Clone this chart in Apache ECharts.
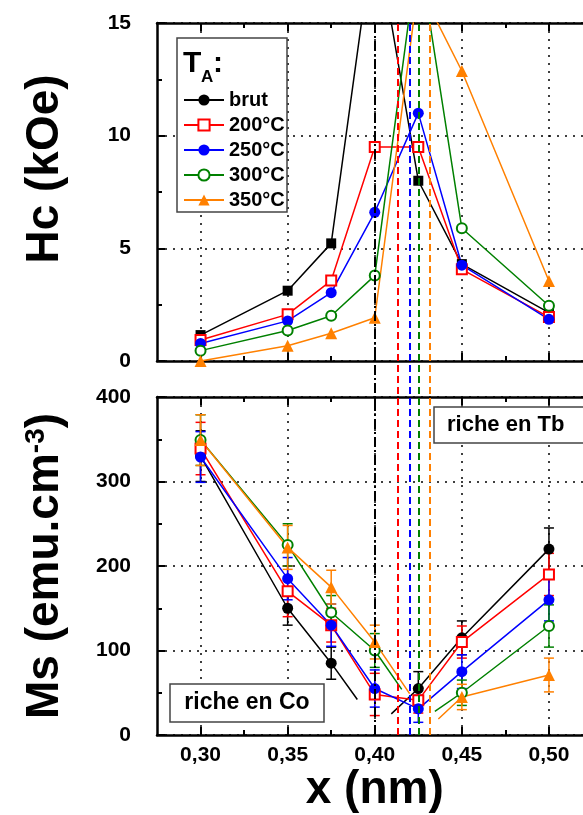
<!DOCTYPE html>
<html><head><meta charset="utf-8">
<script src="https://cdn.jsdelivr.net/npm/echarts@6/dist/echarts.min.js"></script>
<style>html,body{margin:0;padding:0;background:#fff}#c{width:583px;height:815px}</style>
</head><body><div id="c"></div>
<script>
// ---------- data ----------
const xComp = [0.30, 0.35, 0.375, 0.40, 0.425, 0.45, 0.50];
const xMajor = [0.30, 0.35, 0.40, 0.45, 0.50];
const xMinor = [0.325, 0.375, 0.425, 0.475];
const seriesNames = ['brut', '200°C', '250°C', '300°C', '350°C'];

// Hc (kOe)
const hcBrut = [1.15, 3.12, 5.22, 19.3, 8.0, 4.3, 2.15];
const hc200  = [0.93, 2.07, 3.57, 9.5, 9.5, 4.07, 1.95];
const hc250  = [0.78, 1.78, 3.03, 6.6, 11.0, 4.25, 1.85];
const hc300  = [0.46, 1.35, 2.01, 3.79, 18.3, 5.89, 2.45];
const hc350  = [0.0, 0.68, 1.23, 1.92, 16.7, 12.87, 3.55];

// Ms (emu.cm-3)
const msBrut = [330, 150, 85, null, 55, 115, 220];
const ms200  = [339, 170, 130, 48, 41, 110, 190];
const ms250  = [329, 185, 130, 55, 31, 75, 160];
const ms300  = [349, 225, 145, 100, null, 50, 129];
const ms350  = [349, 222, 175, 110, null, 45, 71];
// error bars (half width)
const errBrut = [30, 20, 19, null, 20, 20, 25];
const err200  = [31, 30, 20, 25, 15, 19, 25];
const err250  = [30, 25, 25, 22, 16, 20, 25];
const err300  = [30, 25, 20, 20, null, 15, 25];
const err350  = [30, 26, 20, 20, null, 15, 20];
// ends of the extrapolated branches (no marker)
const extBrut = [[0.390, 42], [0.4095, 25]];
const ext300  = [[0.4155, 54], [0.4345, 28]];
const ext350  = [[0.420, 49], [0.4365, 19]];

// compensation compositions (vertical lines)
const xCompensation = [0.40, 0.4134, 0.420, 0.4252, 0.4316];

// ---------- styles ----------
const FONT = "'Liberation Sans', Arial, sans-serif";
const colors = ['#000000', '#ff0000', '#0000ff', '#008000', '#ff8000'];
const hcSymbols = ['rect', 'emptyRect', 'circle', 'emptyCircle', 'triangle'];
const msSymbols = ['circle', 'emptyRect', 'circle', 'emptyCircle', 'triangle'];
const symSize = {rect: 10, emptyRect: 10, circle: 11, emptyCircle: 10, triangle: 12};
const xMin = 0.275, xMax = 0.525;

const hcAll = [hcBrut, hc200, hc250, hc300, hc350];
const msAll = [msBrut, ms200, ms250, ms300, ms350];
const errAll = [errBrut, err200, err250, err300, err350];
const extAll = [extBrut, null, null, ext300, ext350];

const fmt = v => v.toFixed(2).replace('.', ',');
const labelStyle = {fontSize: 21, fontWeight: 'bold', color: '#000', fontFamily: FONT};
const nameStyle = {fontSize: 46, fontWeight: 'bold', color: '#000', fontFamily: FONT};
const frameLine = {color: '#000', width: 2.5};
const tickLine = {color: '#000', width: 2};
const dotted = {color: '#000', width: 1.5, type: [2, 6]};

function xAxisSet(gridIndex, withLabels) {
  const base = {type: 'value', gridIndex: gridIndex, min: xMin, max: xMax};
  return [
    Object.assign({}, base, {
      position: 'bottom',
      axisLine: {show: true, onZero: false, lineStyle: frameLine},
      axisTick: {show: true, inside: true, length: 8, customValues: xMajor, lineStyle: tickLine},
      axisLabel: Object.assign({show: withLabels, customValues: xMajor, formatter: fmt, margin: 10}, labelStyle),
      splitLine: {show: true, lineStyle: dotted},
      name: withLabels ? 'x (nm)' : '', nameLocation: 'middle', nameGap: 31, nameTextStyle: nameStyle
    }),
    Object.assign({}, base, {
      position: 'bottom',
      axisLine: {show: false, onZero: false},
      axisTick: {show: true, inside: true, length: 5, customValues: xMinor, lineStyle: tickLine},
      axisLabel: {show: false}, splitLine: {show: false}
    }),
    Object.assign({}, base, {
      position: 'top',
      axisLine: {show: true, onZero: false, lineStyle: frameLine},
      axisTick: {show: true, inside: true, length: 8, customValues: xMajor, lineStyle: tickLine},
      axisLabel: {show: false}, splitLine: {show: false}
    }),
    Object.assign({}, base, {
      position: 'top',
      axisLine: {show: false, onZero: false},
      axisTick: {show: true, inside: true, length: 5, customValues: xMinor, lineStyle: tickLine},
      axisLabel: {show: false}, splitLine: {show: false}
    })
  ];
}

function yAxis(gridIndex, max, interval, name, extraName) {
  return {
    type: 'value', gridIndex: gridIndex, min: 0, max: max, interval: interval, position: 'left',
    axisLine: {show: true, onZero: false, lineStyle: frameLine},
    axisTick: {show: true, inside: true, length: 8, lineStyle: tickLine},
    minorTick: {show: true, splitNumber: 2, length: 5, lineStyle: tickLine},
    axisLabel: Object.assign({margin: 26}, labelStyle),
    splitLine: {show: true, lineStyle: dotted},
    name: name, nameLocation: 'middle', nameRotate: 90, nameGap: 89,
    nameTextStyle: Object.assign({}, nameStyle, extraName)
  };
}

const series = [];
function lineSeries(name, idx, symbol, data, xi, yi) {
  return {
    type: 'line', name: name, xAxisIndex: xi, yAxisIndex: yi, data: data,
    symbol: symbol, symbolSize: symSize[symbol], clip: true, z: 3,
    lineStyle: {color: colors[idx], width: 1.5},
    itemStyle: {color: colors[idx]},
    emphasis: {disabled: true}, animation: false
  };
}

// bottom panel (first, so legend uses its symbols)
seriesNames.forEach((name, i) => {
  const pts = xComp.map((x, k) => msAll[i][k] == null ? null : [x, msAll[i][k]]).filter(p => p);
  const ext = extAll[i];
  if (ext) {
    const left = pts.filter(p => p[0] < ext[0][0]).concat([{value: ext[0], symbol: 'none'}]);
    const right = [{value: ext[1], symbol: 'none'}].concat(pts.filter(p => p[0] > ext[1][0]));
    series.push(lineSeries(name, i, msSymbols[i], left, 4, 1));
    series.push(lineSeries(name, i, msSymbols[i], right, 4, 1));
  } else {
    series.push(lineSeries(name, i, msSymbols[i], pts, 4, 1));
  }
});
// top panel
seriesNames.forEach((name, i) => {
  const pts = xComp.map((x, k) => [x, hcAll[i][k]]);
  series.push(lineSeries(name, i, hcSymbols[i], pts, 0, 0));
});
// error bars
function errRender(color) {
  return function (params, api) {
    const x = api.value(0), y = api.value(1), e = api.value(2);
    const hi = api.coord([x, y + e]), lo = api.coord([x, y - e]);
    const w = 5, st = {stroke: color, lineWidth: 1.5};
    return {type: 'group', children: [
      {type: 'line', shape: {x1: hi[0], y1: hi[1], x2: lo[0], y2: lo[1]}, style: st},
      {type: 'line', shape: {x1: hi[0] - w, y1: hi[1], x2: hi[0] + w, y2: hi[1]}, style: st},
      {type: 'line', shape: {x1: lo[0] - w, y1: lo[1], x2: lo[0] + w, y2: lo[1]}, style: st}
    ]};
  };
}
seriesNames.forEach((name, i) => {
  const d = xComp.map((x, k) => (msAll[i][k] == null || errAll[i][k] == null) ? null : [x, msAll[i][k], errAll[i][k]]).filter(p => p);
  series.push({type: 'custom', xAxisIndex: 4, yAxisIndex: 1, data: d, z: 2, silent: true,
    renderItem: errRender(colors[i]), animation: false});
});
// compensation lines spanning both panels
series.push({
  type: 'line', xAxisIndex: 8, yAxisIndex: 2, data: [], silent: true, z: 1,
  markLine: {
    symbol: ['none', 'none'], silent: true, label: {show: false}, animation: false, precision: 5,
    data: xCompensation.map((v, i) => ({
      xAxis: v,
      lineStyle: {color: colors[i], width: 2, type: i === 0 ? [10, 3, 2, 3] : [7, 4]}
    }))
  }
});

const gridBase = {left: 157, right: -9.5, containLabel: false, outerBoundsMode: 'none'};
const option = {
  animation: false,
  backgroundColor: '#fff',
  grid: [
    Object.assign({}, gridBase, {top: 23, bottom: 454}),
    Object.assign({}, gridBase, {top: 397, bottom: 80}),
    Object.assign({}, gridBase, {top: 23, bottom: 80})
  ],
  xAxis: xAxisSet(0, false).concat(xAxisSet(1, true)).concat([
    {type: 'value', gridIndex: 2, min: xMin, max: xMax, show: false}
  ]),
  yAxis: [
    yAxis(0, 15, 5, 'Hc (kOe)', {padding: [0, 0, 0, 46]}),
    yAxis(1, 400, 100, 'Ms (emu.cm{sup|-3})', {rich: {sup: {fontSize: 28, fontWeight: 'bold', color: '#000', fontFamily: FONT, verticalAlign: 'top'}}}),
    {type: 'value', gridIndex: 2, min: 0, max: 1, show: false}
  ],
  legend: {
    data: seriesNames, orient: 'vertical', left: 183, top: 90, padding: 0,
    itemWidth: 40, itemHeight: 14, itemGap: 5, selectedMode: false,
    textStyle: {fontSize: 20, fontWeight: 'bold', color: '#000', fontFamily: FONT, lineHeight: 20}
  },
  graphic: [
    {type: 'rect', z: 1, shape: {x: 177, y: 38, width: 110, height: 174},
      style: {fill: '#fff', stroke: '#444', lineWidth: 1.5}},
    {type: 'text', z: 5, style: {x: 183, y: 64, text: 'T', font: 'bold 30px ' + FONT, fill: '#000', verticalAlign: 'middle'}},
    {type: 'text', z: 5, style: {x: 201, y: 77, text: 'A', font: 'bold 17px ' + FONT, fill: '#000', verticalAlign: 'middle'}},
    {type: 'text', z: 5, style: {x: 213, y: 64, text: ':', font: 'bold 30px ' + FONT, fill: '#000', verticalAlign: 'middle'}},
    {type: 'rect', z: 1, shape: {x: 434, y: 407, width: 170, height: 36},
      style: {fill: '#fff', stroke: '#444', lineWidth: 1.5}},
    {type: 'text', z: 5, style: {x: 447, y: 425, text: 'riche en Tb', font: 'bold 22px ' + FONT, fill: '#000', verticalAlign: 'middle'}},
    {type: 'rect', z: 1, shape: {x: 170, y: 684, width: 154, height: 38},
      style: {fill: '#fff', stroke: '#444', lineWidth: 1.5}},
    {type: 'text', z: 5, style: {x: 247, y: 703, text: 'riche en Co', font: 'bold 23px ' + FONT, fill: '#000', align: 'center', verticalAlign: 'middle'}}
  ],
  series: series
};
const chart = echarts.init(document.getElementById('c'));
chart.setOption(option);
</script>
</body></html>
